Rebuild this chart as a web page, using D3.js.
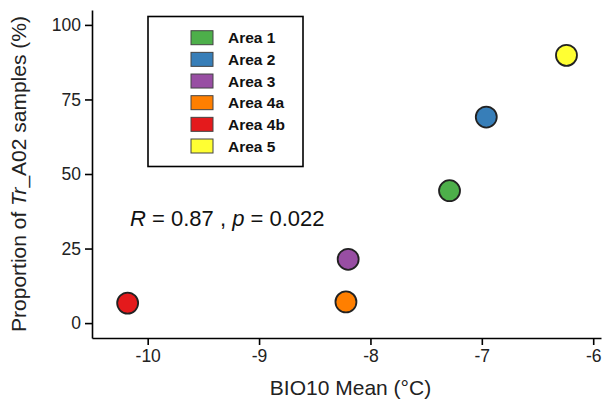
<!DOCTYPE html>
<html>
<head>
<meta charset="utf-8">
<script src="https://cdn.jsdelivr.net/npm/d3@7"></script>
<style>
  html, body { margin: 0; padding: 0; background: #fff; }
  svg { display: block; font-family: "Liberation Sans", Arial, Helvetica, sans-serif; }
</style>
</head>
<body>
<svg id="chart" width="606" height="401"></svg>
<script>
// ---- data ----
const areas = ["Area 1", "Area 2", "Area 3", "Area 4a", "Area 4b", "Area 5"];
const bio10Mean = [-7.29, -6.96, -8.20, -8.22, -10.18, -6.24];
const proportion = [44.4, 69.1, 21.4, 7.1, 6.7, 89.8];
const areaColors = ["#4DAF4A", "#377EB8", "#984EA3", "#FF7F00", "#E41A1C", "#FFFF33"];
const xTicks = [-10, -9, -8, -7, -6];
const yTicks = [0, 25, 50, 75, 100];
const xDomain = [-10.5, -5.93];
const yDomain = [-5, 105];

const svg = d3.select("#chart");
const panel = { left: 92, right: 601, top: 10, bottom: 338 };

const x = d3.scaleLinear().domain(xDomain).range([panel.left, panel.right]);
const y = d3.scaleLinear().domain(yDomain).range([panel.bottom, panel.top]);

// axes
const xAxis = svg.append("g")
  .attr("transform", `translate(0,${panel.bottom})`)
  .call(d3.axisBottom(x).tickValues(xTicks).tickSize(7).tickPadding(5).tickSizeOuter(0).tickFormat(d => d));
const yAxis = svg.append("g")
  .attr("transform", `translate(${panel.left},0)`)
  .call(d3.axisLeft(y).tickValues(yTicks).tickSize(7).tickPadding(4).tickSizeOuter(0));

[xAxis, yAxis].forEach(g => {
  g.select(".domain").attr("stroke", "#000").attr("stroke-width", 1.6);
  g.selectAll(".tick line").attr("stroke", "#000").attr("stroke-width", 1.6);
  g.selectAll(".tick text").attr("fill", "#222").attr("font-size", 17.5)
    .attr("font-family", "'Liberation Sans', Arial, sans-serif");
});
xAxis.selectAll(".tick text").text(d => String(d));

// axis titles
svg.append("text")
  .attr("x", (panel.left + panel.right) / 2 + 4)
  .attr("y", 395)
  .attr("text-anchor", "middle")
  .attr("font-size", 21)
  .attr("fill", "#222")
  .text("BIO10 Mean (°C)");

const yt = svg.append("text")
  .attr("transform", `translate(26,${(panel.top + panel.bottom) / 2}) rotate(-90)`)
  .attr("text-anchor", "middle")
  .attr("font-size", 21)
  .attr("fill", "#222");
yt.append("tspan").text("Proportion of ");
yt.append("tspan").attr("font-style", "italic").text("Tr");
yt.append("tspan").text("_A02 samples (%)");

// correlation label
const lab = svg.append("text")
  .attr("x", 130)
  .attr("y", 226)
  .attr("font-size", 22)
  .attr("fill", "#111");
lab.append("tspan").attr("font-style", "italic").text("R");
lab.append("tspan").text(" = 0.87 , ");
lab.append("tspan").attr("font-style", "italic").text("p");
lab.append("tspan").text(" = 0.022");

// points
const pts = areas.map((a, i) => ({ area: a, x: bio10Mean[i], y: proportion[i], color: areaColors[i] }));
svg.append("g").selectAll("circle")
  .data(pts)
  .join("circle")
  .attr("cx", d => x(d.x))
  .attr("cy", d => y(d.y))
  .attr("r", 10.5)
  .attr("fill", d => d.color)
  .attr("stroke", "#222")
  .attr("stroke-width", 1.8);

// legend
const legend = svg.append("g");
legend.append("rect")
  .attr("x", 148).attr("y", 16.5)
  .attr("width", 155).attr("height", 150)
  .attr("fill", "#fff")
  .attr("stroke", "#000")
  .attr("stroke-width", 1.6);
const rowY = d3.scaleLinear().domain([0, 5]).range([37.7, 146]);
const items = legend.selectAll("g.item").data(pts).join("g").attr("class", "item");
items.append("rect")
  .attr("x", 191).attr("y", (d, i) => rowY(i) - 7)
  .attr("width", 22).attr("height", 14)
  .attr("fill", d => d.color)
  .attr("stroke", "#444")
  .attr("stroke-width", 1);
items.append("text")
  .attr("x", 228).attr("y", (d, i) => rowY(i) + 5.5)
  .attr("font-size", 15.5)
  .attr("font-weight", "bold")
  .attr("fill", "#111")
  .text(d => d.area);
</script>
</body>
</html>
